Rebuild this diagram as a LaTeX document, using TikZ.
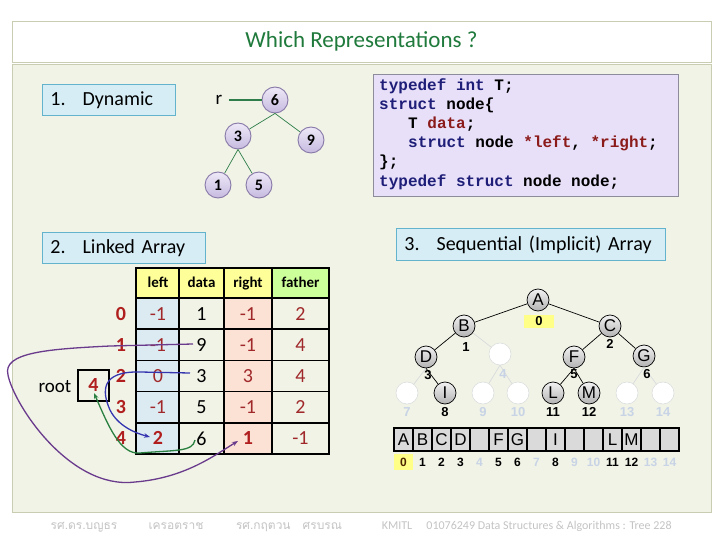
\documentclass[tikz,border=0pt]{standalone}
\usepackage{fontspec}
\setmainfont{Carlito}
\newfontfamily\codefont{Liberation Mono}
\newfontfamily\arialfont{Liberation Sans}
\newfontfamily\thaifont[Script=Thai]{Loma}
\usetikzlibrary{arrows.meta}
\newcommand{\fs}[1]{\fontsize{#1}{#1}\selectfont}
\definecolor{panel}{HTML}{F0F3E6}
\definecolor{panelborder}{HTML}{C9CDB2}
\definecolor{titlegreen}{HTML}{1F7A3C}
\definecolor{secfill}{HTML}{D6EDF5}
\definecolor{secborder}{HTML}{62B3CB}
\definecolor{codefill}{HTML}{E8E0F8}
\definecolor{codeborder}{HTML}{8C8C9C}
\definecolor{navy}{HTML}{1E1E78}
\definecolor{codered}{HTML}{8B1A1A}
\definecolor{valred}{HTML}{A0282A}
\definecolor{idxred}{HTML}{B01E1E}
\definecolor{lavtop}{HTML}{EEE9F8}
\definecolor{lavbot}{HTML}{C6BADF}
\definecolor{lavborder}{HTML}{8878A8}
\definecolor{edgegreen}{HTML}{2E7D4A}
\definecolor{hdryellow}{HTML}{FFFF99}
\definecolor{hdrgreen}{HTML}{CCFF99}
\definecolor{leftblue}{HTML}{DCEAF2}
\definecolor{rightpeach}{HTML}{FBE2D5}
\definecolor{faint}{HTML}{C8D4E6}
\definecolor{faintedge}{HTML}{D8DBDC}
\definecolor{arrpurple}{HTML}{6A3A8C}
\definecolor{arrblue}{HTML}{3535B0}
\definecolor{arrgreen}{HTML}{2A8040}
\definecolor{footgray}{HTML}{C4C4C4}
\definecolor{cellgray}{HTML}{DADADA}
\definecolor{hilite}{HTML}{FFFF88}
\tikzset{
  secbox/.style={draw=secborder, fill=secfill, line width=0.8pt, anchor=north west, inner xsep=8pt, align=left, font=\fs{20}},
  dyn/.style={circle, draw=lavborder, line width=0.9pt, top color=lavtop, bottom color=lavbot, minimum size=26pt, inner sep=0pt, font=\fs{16}\bfseries},
  dynedge/.style={edgegreen, line width=0.7pt},
  codeline/.style={anchor=west, inner sep=0pt, text height=11pt, text depth=3pt, font=\codefont\bfseries\fs{16}},
  cell/.style={draw=black, line width=1.6pt, minimum height=31.2pt, inner sep=0pt, font=\fs{20}},
  hdr/.style={draw=black, line width=1.6pt, minimum height=30pt, inner sep=0pt, text height=11pt, text depth=3pt, font=\fs{15}\bfseries},
  rowidx/.style={text=idxred, font=\fs{20}\bfseries, inner sep=0pt},
  seq/.style={circle, draw=black, line width=0.7pt, top color=white!95!black, bottom color=black!30, minimum size=22pt, inner sep=0pt, font=\arialfont\fs{17}},
  seqempty/.style={circle, draw=faintedge, line width=0.5pt, fill=white, minimum size=22pt, inner sep=0pt},
  seqedge/.style={black, line width=0.7pt},
  seqfaint/.style={faintedge, line width=0.7pt},
  lab/.style={font=\arialfont\bfseries\fs{13}, inner sep=0pt},
  flab/.style={font=\arialfont\bfseries\fs{13}, inner sep=0pt, text=faint},
  arr/.style={draw=black, line width=1.2pt, fill=cellgray, minimum width=19pt, minimum height=23pt, inner sep=0pt, font=\arialfont\fs{17}},
  foot/.style={text=footgray, font=\fs{12}, inner sep=0pt, anchor=base}
}
\begin{document}
\begin{tikzpicture}[x=1pt,y=-1pt]
\useasboundingbox (0,0) rectangle (720,540);
\fill[white] (0,0) rectangle (720,540);
\draw[panelborder, fill=panel, line width=0.8pt] (12,64) rectangle (711,512);
\node[draw=panelborder, fill=white, line width=0.8pt, minimum width=699pt, minimum height=41pt, text=titlegreen, font=\fs{23}] (title) at (361.5,41.5) {Which Representations ?};

% ---------- 1. Dynamic ----------
\node[secbox, text width=117pt, minimum height=31pt] (sec1) at (42,84) {1.\hspace{17pt}Dynamic};
\node[font=\fs{19}, inner sep=0pt] (r) at (219,100) {r};
\node[dyn] (n6) at (275,100) {6};
\node[dyn] (n3) at (238,136) {3};
\node[dyn] (n9) at (311,140) {9};
\node[dyn] (n1) at (218,185) {1};
\node[dyn] (n5) at (259,185) {5};
\draw[edgegreen, line width=2pt] ([xshift=6pt]r.east) -- (n6.west);
\draw[dynedge] (n6.south) -- (n3);
\draw[dynedge] (n6.south) -- (n9);
\draw[dynedge] (n3.south) -- (n1);
\draw[dynedge] (n3.south) -- (n5);

% ---------- code ----------
\node[draw=codeborder, fill=codefill, line width=0.9pt, minimum width=305pt, minimum height=122pt, anchor=north west] (codebox) at (373,74) {};
\node[codeline] (c1) at (379,87) {\color{navy}typedef int \color{black}T;};
\node[codeline] (c2) at (379,106) {\color{navy}struct \color{black}node\{};
\node[codeline] (c3) at (408,125) {T \color{codered}data\color{black};};
\node[codeline] (c4) at (408,144) {\color{navy}struct \color{black}node \color{codered}*left\color{black}, \color{codered}*right\color{black};};
\node[codeline] (c5) at (379,163) {\};};
\node[codeline] (c6) at (379,183) {\color{navy}typedef struct \color{black}node node;};

% ---------- 2. Linked Array ----------
\node[secbox, text width=147pt, minimum height=31pt] (sec2) at (42,232) {2.\hspace{17pt}Linked Array};
\node[hdr, fill=hdryellow, minimum width=44pt] (hL) at (158,283) {left};
\node[hdr, fill=hdryellow, minimum width=45pt] (hD) at (201.5,283) {data};
\node[hdr, fill=hdryellow, minimum width=48pt] (hR) at (248,283) {right};
\node[hdr, fill=hdrgreen, minimum width=57pt] (hF) at (300.5,283) {father};
% rows
\foreach \i/\y/\l/\d/\r/\f in {0/313.6/-1/1/-1/2, 1/344.8/-1/9/-1/4, 2/376/0/3/3/4, 3/407.2/-1/5/-1/2}{
  \node[cell, fill=leftblue, minimum width=44pt, text=valred] (L\i) at (158,\y) {\l};
  \node[cell, fill=panel, minimum width=45pt] (D\i) at (201.5,\y) {\d};
  \node[cell, fill=rightpeach, minimum width=48pt, text=valred] (R\i) at (248,\y) {\r};
  \node[cell, fill=panel, minimum width=57pt, text=valred] (F\i) at (300.5,\y) {\f};
  \node[rowidx] (I\i) at (121,\y) {\i};
}
\node[cell, fill=leftblue, minimum width=44pt, text=idxred, font=\fs{20}\bfseries] (L4) at (158,438.4) {2};
\node[cell, fill=panel, minimum width=45pt] (D4) at (201.5,438.4) {6};
\node[cell, fill=rightpeach, minimum width=48pt, text=idxred, font=\fs{20}\bfseries] (R4) at (248,438.4) {1};
\node[cell, fill=panel, minimum width=57pt, text=valred] (F4) at (300.5,438.4) {-1};
\node[rowidx] (I4) at (121,438.4) {4};
\node[font=\fs{19}, inner sep=0pt] (rootlab) at (55,387) {root};
\node[draw=black, line width=1.4pt, minimum size=31pt, inner sep=0pt, text=idxred, font=\fs{20}\bfseries] (rootbox) at (93.5,385.5) {4};
% arrows
\coordinate (p1) at (193,344);
\coordinate (p2) at (238,441);
\draw[arrpurple, line width=1.3pt, -{Stealth[length=6pt]}] (p1) -- (110,346)
  .. controls (50,349) and (2,352) .. (8,375)
  .. controls (14,405) and (70,490) .. (135,482)
  .. controls (185,478) and (215,455) .. (p2);
\coordinate (b1) at (190,373);
\coordinate (b2) at (150,437);
\draw[arrblue, line width=1.3pt, -{Stealth[length=6pt]}] (b1) -- (140,372)
  .. controls (100,371) and (102,392) .. (110,410)
  .. controls (118,426) and (135,433) .. (b2);
\coordinate (g1) at (195,440);
\coordinate (g2) at (94,393);
\draw[arrgreen, line width=1.3pt, -{Stealth[length=6pt]}] (g1)
  .. controls (193,452) and (175,450) .. (140,453)
  .. controls (120,455) and (108,425) .. (g2);

% ---------- 3. Sequential ----------
\node[secbox, text width=253pt, minimum height=32pt] (sec3) at (396,228) {3.\hspace{17pt}Sequential (Implicit) Array};
\node[seq] (A) at (538,300) {A};
\node[seq] (B) at (464,326) {B};
\node[seq] (C) at (610,326) {C};
\node[seq] (D) at (426,357) {D};
\node[seqempty] (E4) at (500,354) {};
\node[seq] (F) at (574,357) {F};
\node[seq] (G) at (644,356) {G};
\node[seqempty] (E7) at (407,393) {};
\node[seq] (I) at (445,393) {I};
\node[seqempty] (E9) at (483,393) {};
\node[seqempty] (E10) at (518,393) {};
\node[seq] (L) at (553,393) {L};
\node[seq] (M) at (589,393) {M};
\node[seqempty] (E13) at (627,393) {};
\node[seqempty] (E14) at (663,393) {};
\draw[seqedge] (A) -- (B);
\draw[seqedge] (A) -- (C);
\draw[seqedge] (B) -- (D);
\draw[seqfaint] (B) -- (E4);
\draw[seqedge] (C) -- (F);
\draw[seqedge] (C) -- (G);
\draw[seqfaint] (D.south) -- (E7);
\draw[seqedge] (D.south) -- (I);
\draw[seqfaint] (E4.south) -- (E9);
\draw[seqfaint] (E4.south) -- (E10);
\draw[seqedge] (F.south) -- (L);
\draw[seqedge] (F.south) -- (M);
\draw[seqfaint] (G.south) -- (E13);
\draw[seqfaint] (G.south) -- (E14);
\node[fill=hilite, minimum width=30pt, minimum height=13pt, inner sep=0pt, font=\arialfont\bfseries\fs{13}] (l0) at (539,321) {0};
\node[lab] (l1) at (466,347) {1};
\node[lab] (l2) at (610,344) {2};
\node[lab] (l3) at (428,375) {3};
\node[flab] (l4) at (503,374) {4};
\node[lab] (l5) at (574,374) {5};
\node[lab] (l6) at (647,374) {6};
\node[flab] (l7) at (407,412) {7};
\node[lab] (l8) at (445,412) {8};
\node[flab] (l9) at (483,412) {9};
\node[flab] (l10) at (518,412) {10};
\node[lab] (l11) at (553,412) {11};
\node[lab] (l12) at (589,412) {12};
\node[flab] (l13) at (627,412) {13};
\node[flab] (l14) at (663,412) {14};
% array
\foreach \i/\t in {0/A,1/B,2/C,3/D,4/,5/F,6/G,7/,8/I,9/,10/,11/L,12/M,13/,14/}{
  \node[arr] (a\i) at ({403.5+19*\i},439.5) {\t};
}
\node[fill=hilite, minimum width=19pt, minimum height=16pt, inner sep=0pt, text=black!70!orange, font=\arialfont\bfseries\fs{12}] (x0) at (403.5,462) {0};
\foreach \i in {1,2,3,5,6,8,11,12}{
  \node[lab, font=\arialfont\bfseries\fs{12}] (x\i) at ({403.5+19*\i},462) {\i};
}
\foreach \i in {4,7,9,10,13,14}{
  \node[flab, font=\arialfont\bfseries\fs{12}] (x\i) at ({403.5+19*\i},462) {\i};
}

% ---------- footer ----------
\node[foot, font=\thaifont\fs{12}] (f1) at (84,529) {รศ.ดร.บญธร};
\node[foot, font=\thaifont\fs{12}] (f2) at (176,529) {เครอตราช};
\node[foot, font=\thaifont\fs{12}] (f3) at (289,529) {รศ.กฤตวน\quad ศรบรณ};
\node[foot] (f4) at (397,529) {KMITL};
\node[foot] (f5) at (549,529) {01076249 Data Structures \& Algorithms : Tree 228};
\end{tikzpicture}
\end{document}
